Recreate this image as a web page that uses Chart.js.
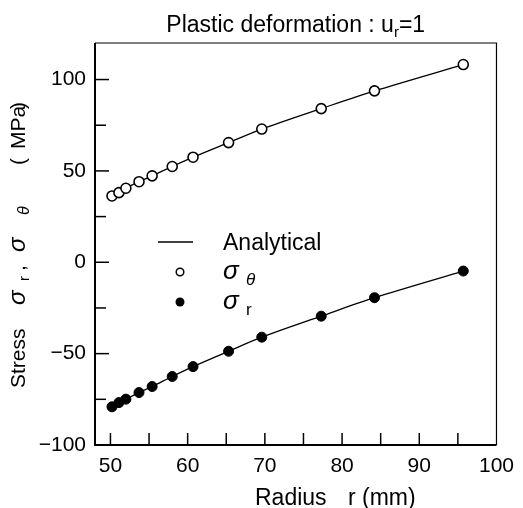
<!DOCTYPE html>
<html>
<head>
<meta charset="utf-8">
<script src="https://cdn.jsdelivr.net/npm/chart.js@4/dist/chart.umd.min.js"></script>
<style>
html,body{margin:0;padding:0;background:#fff;}
#wrap{width:523px;height:508px;position:relative;}
</style>
</head>
<body>
<div id="wrap"><canvas id="c" width="523" height="508"></canvas></div>
<script>
// ---- data ----
const radius = [50.2, 51.1, 52.0, 53.7, 55.4, 58.0, 60.7, 65.3, 69.6, 77.3, 84.2, 95.7];
const sigmaTheta = [36.3, 38.1, 40.5, 44.1, 47.3, 52.4, 57.5, 65.5, 72.9, 84.1, 93.8, 108.2];
const sigmaR = [-79.1, -76.8, -74.9, -71.3, -68.0, -62.5, -57.1, -48.7, -41.0, -29.5, -19.4, -4.8];
const xTickLabels = [50, 60, 70, 80, 90, 100];
const yTickLabels = [-100, -50, 0, 50, 100];
const titleMain = "Plastic deformation : u";
const titleSub = "r";
const titleEnd = "=1";
const legendLabels = ["Analytical", "\u03C3", "\u03C3"];

const pts = (xs, ys) => xs.map((x, i) => ({x: x, y: ys[i]}));
const FONT = "'Liberation Sans', Arial, Helvetica, sans-serif";

const decor = {
  id: 'decor',
  afterDraw(chart) {
    const ctx = chart.ctx;
    const a = chart.chartArea;
    const xs = chart.scales.x, ys = chart.scales.y;
    ctx.save();
    ctx.strokeStyle = '#000';
    ctx.fillStyle = '#000';
    // frame (top/right thin)
    ctx.lineWidth = 1.2;
    ctx.beginPath();
    ctx.moveTo(a.left, a.top); ctx.lineTo(a.right, a.top); ctx.lineTo(a.right, a.bottom);
    ctx.stroke();
    // axes (left/bottom thicker)
    ctx.lineWidth = 2;
    ctx.beginPath();
    ctx.moveTo(a.left, a.top); ctx.lineTo(a.left, a.bottom); ctx.lineTo(a.right, a.bottom);
    ctx.stroke();
    // inward ticks
    ctx.lineWidth = 1.5;
    xs.ticks.forEach(t => {
      if (t.value % 5 !== 0 || t.value >= xs.max) return;
      const px = xs.getPixelForValue(t.value);
      ctx.beginPath(); ctx.moveTo(px, a.bottom); ctx.lineTo(px, a.bottom - 12); ctx.stroke();
    });
    ys.ticks.forEach(t => {
      if (t.value % 25 !== 0 || t.value <= ys.min) return;
      const py = ys.getPixelForValue(t.value);
      const len = (t.value % 50 === 0) ? 14 : 11;
      ctx.beginPath(); ctx.moveTo(a.left, py); ctx.lineTo(a.left + len, py); ctx.stroke();
    });

    // title
    ctx.textBaseline = 'alphabetic';
    ctx.textAlign = 'left';
    const fMain = '23px ' + FONT, fSub = '15px ' + FONT;
    ctx.font = fMain; const w1 = ctx.measureText(titleMain).width; const w3 = ctx.measureText(titleEnd).width;
    ctx.font = fSub; const w2 = ctx.measureText(titleSub).width;
    let tx = (a.left + a.right) / 2 - (w1 + w2 + w3) / 2;
    const tb = 32;
    ctx.font = fMain; ctx.fillText(titleMain, tx, tb); tx += w1;
    ctx.font = fSub; ctx.fillText(titleSub, tx, tb + 5); tx += w2;
    ctx.font = fMain; ctx.fillText(titleEnd, tx, tb);

    // x title
    ctx.font = '23px ' + FONT;
    ctx.fillText('Radius', 255, 505);
    ctx.fillText('r (mm)', 348, 505);

    // y title (rotated pieces)
    const piece = (txt, font, bx, yStart) => {
      ctx.save();
      ctx.translate(bx, yStart);
      ctx.rotate(-Math.PI / 2);
      ctx.font = font;
      ctx.fillText(txt, 0, 0);
      ctx.restore();
    };
    piece('Stress', '21px ' + FONT, 25, 388);
    piece('\u03C3', 'italic 24px ' + FONT, 25, 305);
    piece('r', '15px ' + FONT, 29, 281);
    piece(',', '21px ' + FONT, 25, 271);
    piece('\u03C3', 'italic 24px ' + FONT, 25, 252);
    piece('\u03B8', 'italic 16px ' + FONT, 29, 215);
    piece('(', '21px ' + FONT, 25, 165);
    piece('MPa', '21px ' + FONT, 25, 149);
    piece(')', '21px ' + FONT, 25, 109);

    // legend
    ctx.lineWidth = 1.3;
    ctx.beginPath(); ctx.moveTo(158, 242); ctx.lineTo(193, 242); ctx.stroke();
    ctx.font = '23px ' + FONT;
    ctx.fillText(legendLabels[0], 223, 250);
    ctx.lineWidth = 1.5;
    ctx.beginPath(); ctx.arc(180, 272, 3.8, 0, Math.PI * 2);
    ctx.fillStyle = '#fff'; ctx.fill(); ctx.fillStyle = '#000'; ctx.stroke();
    ctx.beginPath(); ctx.arc(180, 302, 4.5, 0, Math.PI * 2); ctx.fill();
    ctx.font = 'italic 26px ' + FONT;
    ctx.fillText(legendLabels[1], 223, 279);
    ctx.font = 'italic 17px ' + FONT;
    ctx.fillText('\u03B8', 246, 285);
    ctx.font = 'italic 26px ' + FONT;
    ctx.fillText(legendLabels[2], 223, 309);
    ctx.font = '17px ' + FONT;
    ctx.fillText('r', 246, 315);
    ctx.restore();
  }
};

new Chart(document.getElementById('c'), {
  type: 'scatter',
  data: {
    datasets: [
      {label: 'Analytical θ', data: pts(radius, sigmaTheta), showLine: true, pointRadius: 0,
       borderColor: '#000', borderWidth: 1.3, tension: 0.3, order: 2},
      {label: 'Analytical r', data: pts(radius, sigmaR), showLine: true, pointRadius: 0,
       borderColor: '#000', borderWidth: 1.3, tension: 0.3, order: 2},
      {label: 'σθ', data: pts(radius, sigmaTheta), showLine: false, pointRadius: 5,
       pointBackgroundColor: '#fff', pointBorderColor: '#000', pointBorderWidth: 1.6, order: 1},
      {label: 'σr', data: pts(radius, sigmaR), showLine: false, pointRadius: 5,
       pointBackgroundColor: '#000', pointBorderColor: '#000', pointBorderWidth: 1, order: 1}
    ]
  },
  options: {
    responsive: false,
    animation: false,
    devicePixelRatio: 1,
    layout: {padding: {top: 43, right: 21, left: 0, bottom: 0}},
    plugins: {legend: {display: false}, tooltip: {enabled: false}, title: {display: false}},
    scales: {
      x: {
        type: 'linear', min: 48, max: 100,
        afterFit: s => { s.height = 63; },
        grid: {display: false, drawTicks: false},
        border: {display: false},
        afterBuildTicks: s => { s.ticks = []; for (let v = 50; v <= 100; v += 5) s.ticks.push({value: v}); },
        ticks: {
          padding: 9, color: '#000', font: {family: FONT, size: 21},
          autoSkip: false, maxRotation: 0,
          callback: v => xTickLabels.includes(v) ? String(v) : ''
        }
      },
      y: {
        type: 'linear', min: -100, max: 120,
        afterFit: s => { s.width = 95; },
        grid: {display: false, drawTicks: false},
        border: {display: false},
        afterBuildTicks: s => { s.ticks = []; for (let v = -100; v <= 100; v += 25) s.ticks.push({value: v}); },
        ticks: {
          padding: 9, color: '#000', font: {family: FONT, size: 21},
          autoSkip: false,
          callback: v => yTickLabels.includes(v) ? (v < 0 ? '\u2212' + Math.abs(v) : String(v)) : ''
        }
      }
    }
  },
  plugins: [decor]
});
</script>
</body>
</html>
